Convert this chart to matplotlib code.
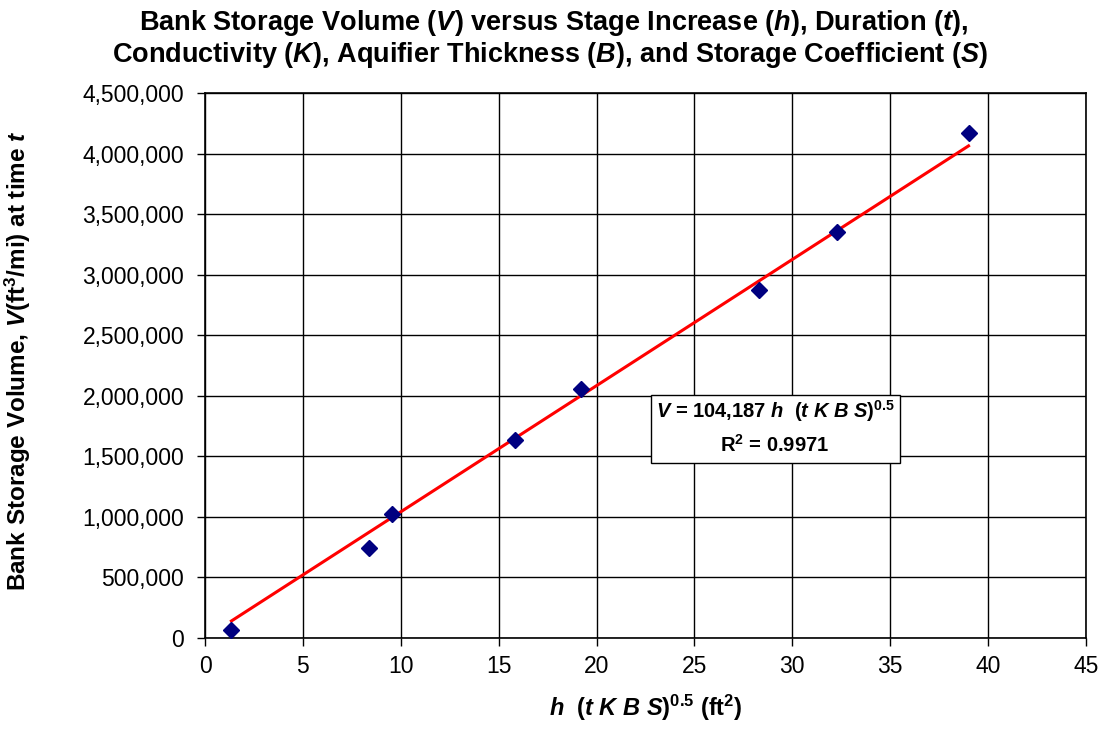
import matplotlib.pyplot as plt
import matplotlib.ticker as mticker
from matplotlib.patches import Rectangle
import numpy as np

# data
x_vals = [1.35, 8.4, 9.55, 15.85, 19.2, 28.3, 32.3, 39.0]
v_vals = [65000, 745000, 1020000, 1633000, 2054000, 2870000, 3350000, 4170000]
slope = 104187  # fitted coefficient shown in the box
r2 = 0.9971

plt.rcParams['font.family'] = ['Liberation Sans', 'DejaVu Sans']
plt.rcParams['mathtext.fontset'] = 'custom'
plt.rcParams['mathtext.rm'] = 'Liberation Sans'
plt.rcParams['mathtext.bf'] = 'Liberation Sans:bold'
plt.rcParams['mathtext.it'] = 'Liberation Sans:italic'
plt.rcParams['mathtext.bfit'] = 'Liberation Sans:italic:bold'

fig = plt.figure(figsize=(11.03, 7.31), dpi=100)
ax = fig.add_axes([205/1103, 1 - 638/731, 881/1103, 545/731])

ax.set_xlim(0, 45)
ax.set_ylim(0, 4500000)
ax.set_xticks(np.arange(0, 46, 5))
ax.set_yticks(np.arange(0, 4500001, 500000))
ax.yaxis.set_major_formatter(mticker.FuncFormatter(lambda v, p: f'{int(v):,}'))
ax.grid(True, color='black', linewidth=1)
ax.set_axisbelow(True)
for s in ax.spines.values():
    s.set_color('black')
    s.set_linewidth(1.2)
ax.tick_params(direction='out', length=6, width=1, labelsize=16.5, colors='black')
ax.tick_params(axis='y', pad=9)
ax.tick_params(axis='x', pad=6)

# trend line through origin
xs = np.array([min(x_vals), max(x_vals)])
ax.plot(xs, slope * xs, color='red', linewidth=2.2, zorder=3)
ax.plot(x_vals, v_vals, linestyle='none', marker='D', markersize=8,
        color='#000080', markeredgecolor='#000080', zorder=4, clip_on=False)

# equation box
ax.add_patch(Rectangle((0.506, 0.321), 0.283, 0.125, transform=ax.transAxes,
                       facecolor='white', edgecolor='black', linewidth=1, zorder=5))
ax.text(0.647, 0.4165, r'$\mathbfit{V}$ = 104,187 $\mathbfit{h}$  ($\mathbfit{t\ K\ B\ S}$)$^{\mathbf{0.5}}$',
        transform=ax.transAxes, ha='center', va='center', fontsize=14.5, fontweight='bold', zorder=6)
ax.text(0.647, 0.354, r'R$^{\mathbf{2}}$ = ' + f'{r2:.4f}',
        transform=ax.transAxes, ha='center', va='center', fontsize=14.5, fontweight='bold', zorder=6)

fig.text(0.502, 1 - 23/731,
         r'Bank Storage Volume ($\mathbfit{V}$) versus Stage Increase ($\mathbfit{h}$), Duration ($\mathbfit{t}$),',
         ha='center', va='center', fontsize=19.5, fontweight='bold')
fig.text(0.4985, 1 - 55/731,
         r'Conductivity ($\mathbfit{K}$), Aquifier Thickness ($\mathbfit{B}$), and Storage Coefficient ($\mathbfit{S}$)',
         ha='center', va='center', fontsize=19.5, fontweight='bold')

ax.set_xlabel(r'$\mathbfit{h}$  ($\mathbfit{t\ K\ B\ S}$)$^{\mathbf{0.5}}$ (ft$^{\mathbf{2}}$)',
              fontsize=17, fontweight='bold')
ax.xaxis.set_label_coords(0.5, -0.1)
ax.set_ylabel(r'Bank Storage Volume, $\mathbfit{V}$(ft$^{\mathbf{3}}$/mi) at time $\mathbfit{t}$',
              fontsize=17.5, fontweight='bold')
ax.yaxis.set_label_coords(-0.195, 0.508)

fig.savefig('out.png', dpi=100)
